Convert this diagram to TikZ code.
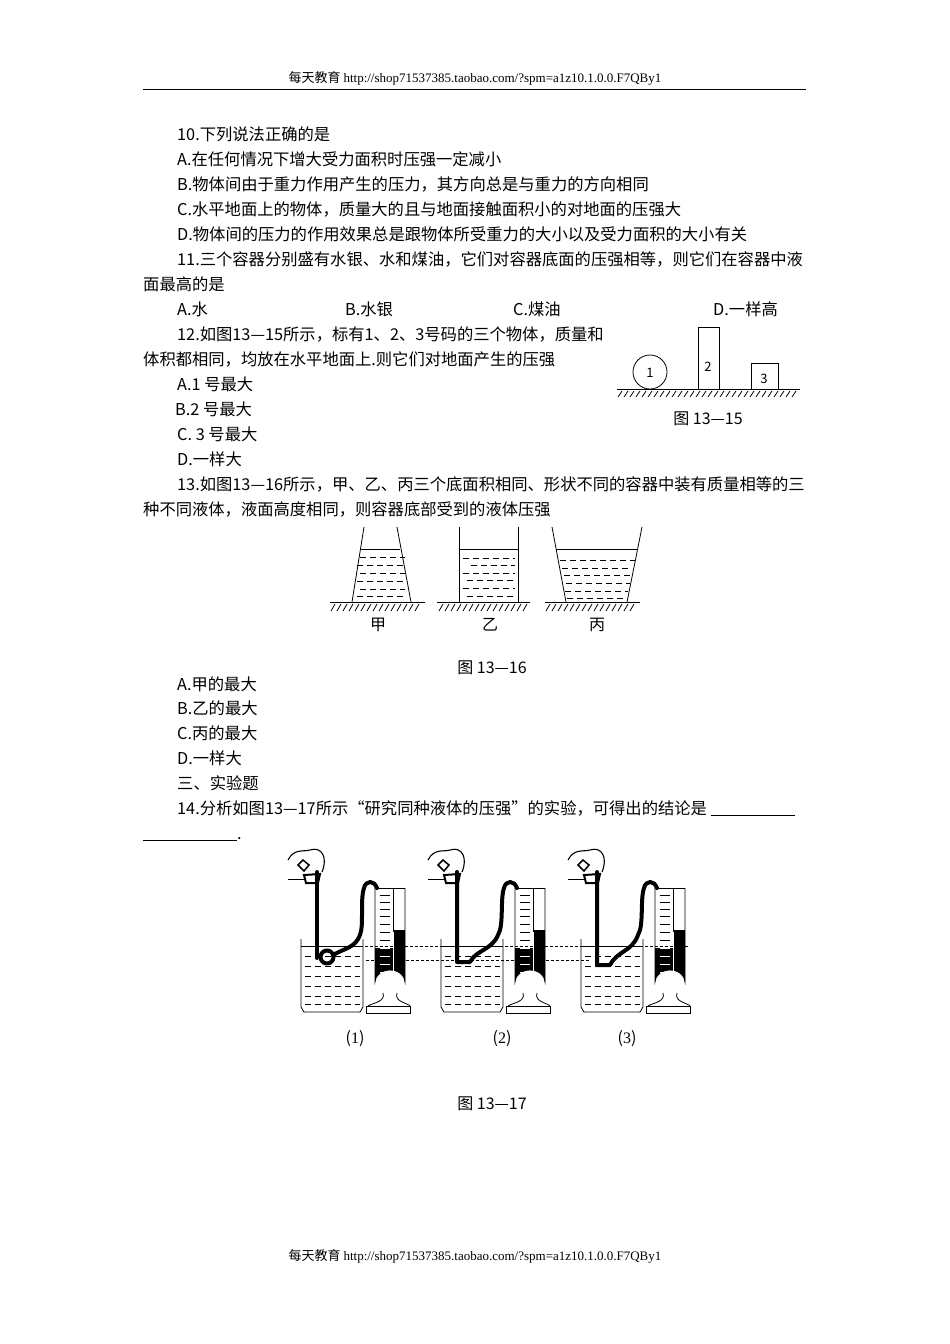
\documentclass[tikz,border=0pt]{standalone}
\usepackage{fontspec}
\setmainfont{Noto Sans CJK SC}
\newfontfamily\lat{Liberation Serif}
\begin{document}
\begin{tikzpicture}[x=1pt,y=-1pt,
 tx/.style={anchor=base west,inner sep=0pt,font=\fontsize{16.3}{18}\selectfont},
 tc/.style={anchor=base,inner sep=0pt,font=\fontsize{16}{18}\selectfont},
 hd/.style={anchor=base,inner sep=0pt,font=\fontsize{13}{15}\selectfont},
 num/.style={inner sep=0pt,font=\fontsize{13}{15}\selectfont},
 thin/.style={line width=0.8pt},
 hose/.style={line width=4pt,line cap=round,line join=round},
 dsh/.style={line width=0.9pt,dash pattern=on 6pt off 4pt}]
\useasboundingbox (0,0) rectangle (950,1344);
\fill[white] (0,0) rectangle (950,1344);
\node[hd] (h) at (475,82) {每天教育 {\lat http://shop71537385.taobao.com/?spm=a1z10.1.0.0.F7QBy1}};
\draw[line width=1pt] (143,89) -- (806,89);
\node[hd] (f) at (475,1260) {每天教育 {\lat http://shop71537385.taobao.com/?spm=a1z10.1.0.0.F7QBy1}};
% text
\node[tx] at (177,140) {10.下列说法正确的是};
\node[tx] at (177,165) {A.在任何情况下增大受力面积时压强一定减小};
\node[tx] at (177,190) {B.物体间由于重力作用产生的压力，其方向总是与重力的方向相同};
\node[tx] at (177,215) {C.水平地面上的物体，质量大的且与地面接触面积小的对地面的压强大};
\node[tx] at (177,240) {D.物体间的压力的作用效果总是跟物体所受重力的大小以及受力面积的大小有关};
\node[tx] at (177,265) {11.三个容器分别盛有水银、水和煤油，它们对容器底面的压强相等，则它们在容器中液};
\node[tx] at (143,290) {面最高的是};
\node[tx] at (177,315) {A.水};
\node[tx] at (345,315) {B.水银};
\node[tx] at (513,315) {C.煤油};
\node[tx] at (713,315) {D.一样高};
\node[tx] at (177,340) {12.如图13—15所示，标有1、2、3号码的三个物体，质量和};
\node[tx] at (143,365) {体积都相同，均放在水平地面上.则它们对地面产生的压强};
\node[tx] at (177,390) {A.1 号最大};
\node[tx] at (175,415) {B.2 号最大};
\node[tx] at (177,440) {C. 3 号最大};
\node[tx] at (177,465) {D.一样大};
\node[tx] at (177,490) {13.如图13—16所示，甲、乙、丙三个底面积相同、形状不同的容器中装有质量相等的三};
\node[tx] at (143,515) {种不同液体，液面高度相同，则容器底部受到的液体压强};
\node[tx] at (177,690) {A.甲的最大};
\node[tx] at (177,714) {B.乙的最大};
\node[tx] at (177,739) {C.丙的最大};
\node[tx] at (177,764) {D.一样大};
\node[tx] at (177,789) {三、实验题};
\node[tx] at (177,814) {14.分析如图13—17所示“研究同种液体的压强”的实验，可得出的结论是 \underline{\hspace{84pt}}};
\node[tx] at (143,839) {\underline{\hspace{94pt}}.};
% fig 13-15
\draw[thin] (617,389) -- (800,389);
\foreach \x in {622,628,...,796} \draw[thin] (\x,391) -- (\x-4,397);
\draw[thin] (650,372) circle (17);
\node[num] (n1) at (650,373) {1};
\draw[thin] (698,389) -- (698,327) -- (719,327) -- (719,389);
\node[num] (n2) at (708,367) {2};
\draw[thin] (751,389) -- (751,363) -- (778,363) -- (778,389);
\node[num] (n3) at (764,379) {3};
\node[tc] (c15) at (708,424) {图 13—15};
% fig 13-16
\foreach \a/\b in {330/425,437/530,545/640}{
 \draw[thin] (\a,602) -- (\b,602);
}
\foreach \x in {334,340,...,420} \draw[thin] (\x+1,604) -- (\x-3,611);
\foreach \x in {442,448,...,526} \draw[thin] (\x+1,604) -- (\x-3,611);
\foreach \x in {549,555,...,636} \draw[thin] (\x+1,604) -- (\x-3,611);
\draw[thin] (364,527) -- (352,602); \draw[thin] (397,527) -- (411,602);
\draw[thin] (361,549) -- (400,549);
\foreach \y/\s in {557/0,565/-3,573/0,581/-3,589/0,596/-3}{
 \draw[dsh] (360+\s,\y) -- (405,\y);}
\draw[thin] (459,527) -- (459,602); \draw[thin] (518,527) -- (518,602);
\draw[thin] (459,549) -- (518,549);
\foreach \y/\s in {558/0,565/8,573/0,580/4,588/0,596/4}{
 \draw[dsh] (463+\s,\y) -- (515,\y);}
\draw[thin] (552,527) -- (566,602); \draw[thin] (642,527) -- (627,602);
\draw[thin] (556,549) -- (638,549);
\foreach \y/\s/\e in {560/560/635,568/562/630,575/564/632,583/566/630,591/565/628,598/567/627}{
 \draw[dsh] (\s,\y) -- (\e,\y);}
\node[tc] (j) at (378,630) {甲};
\node[tc] (yi) at (490,630) {乙};
\node[tc] (b) at (597,630) {丙};
\node[tc] (c16) at (492,673) {图 13—16};
% fig 13-17
\draw[line width=0.8pt,dash pattern=on 3pt off 2pt] (320,946) -- (688,946);
\draw[line width=0.8pt,dash pattern=on 3pt off 2pt] (366,960) -- (590,960);
\foreach \ox/\ty in {0/0,140/1,280/2}{
\begin{scope}[shift={(\ox,0)}]
 % beaker
 \draw[thin] (301,939) -- (301,1007) -- (304,1012) -- (360,1012) -- (363,1007) -- (363,939);
 \draw[thin] (301,946) -- (363,946);
 \foreach \y in {956,966,976,986,996,1004}{
   \draw[dsh] (305,\y) -- (360,\y);}
 % cylinder
 \fill (375,948) -- (375,982) arc (180:360:15 and 12) -- (405,930) -- (393,930) -- (393,948) -- cycle;
 \draw[thin] (375,888) -- (375,982) arc (180:360:15 and 12) -- (405,888);
 \draw[thin] (375,888) -- (405,888);
 \draw[thin] (393,888) -- (393,930);
 \draw[white,line width=0.8pt] (393,932) -- (393,984);
 \foreach \y in {895,902,909,916,924,932,940,948,956,964,972,980}{
   \draw[line width=0.8pt,white] (380,\y) -- (390,\y);}
 \foreach \y in {895,902,909,916,924,932,940}{
   \draw[line width=0.8pt] (380,\y) -- (390,\y);}
 \draw[thin] (383,993) .. controls (386,1002) and (372,1003) .. (368,1006);
 \draw[thin] (397,993) .. controls (394,1002) and (408,1003) .. (410,1006);
 \draw[thin] (366,1006) rectangle (410,1013);
 % hand
 \draw[line width=1.1pt] (288,860) .. controls (294,848) and (304,852) .. (310,850)
   .. controls (322,846) and (328,858) .. (322,872);
 \draw[line width=1.5pt] (303,860) -- (309,865) -- (304,871) -- (298,865) -- cycle;
 \draw[line width=1pt] (288,879) -- (305,879);
 \draw[line width=2pt] (304,875) -- (320,874) -- (318,883) -- (306,883) -- cycle;
 % hose
 \ifcase\ty
  \draw[hose] (317,872) -- (317,958);
  \draw[hose] (327,957) circle (6.5);
  \draw[hose] (333,955) .. controls (345,948) and (355,948) .. (360,935)
    .. controls (364,925) and (360,900) .. (364,888) .. controls (366,880) and (374,880) .. (377,888);
 \or
  \draw[hose] (317,872) -- (317,962) -- (330,962) .. controls (336,950) and (352,950) .. (358,935)
    .. controls (364,925) and (360,900) .. (364,888) .. controls (366,880) and (374,880) .. (377,888);
 \or
  \draw[hose] (317,872) -- (317,965) -- (330,965) .. controls (338,950) and (352,952) .. (358,935)
    .. controls (364,925) and (360,900) .. (364,888) .. controls (366,880) and (374,880) .. (377,888);
 \fi
\end{scope}}
\node[tc] (l1) at (355,1043) {({\lat 1})};
\node[tc] (l2) at (502,1043) {({\lat 2})};
\node[tc] (l3) at (627,1043) {({\lat 3})};
\node[tc] (c17) at (492,1109) {图 13—17};
\end{tikzpicture}
\end{document}
